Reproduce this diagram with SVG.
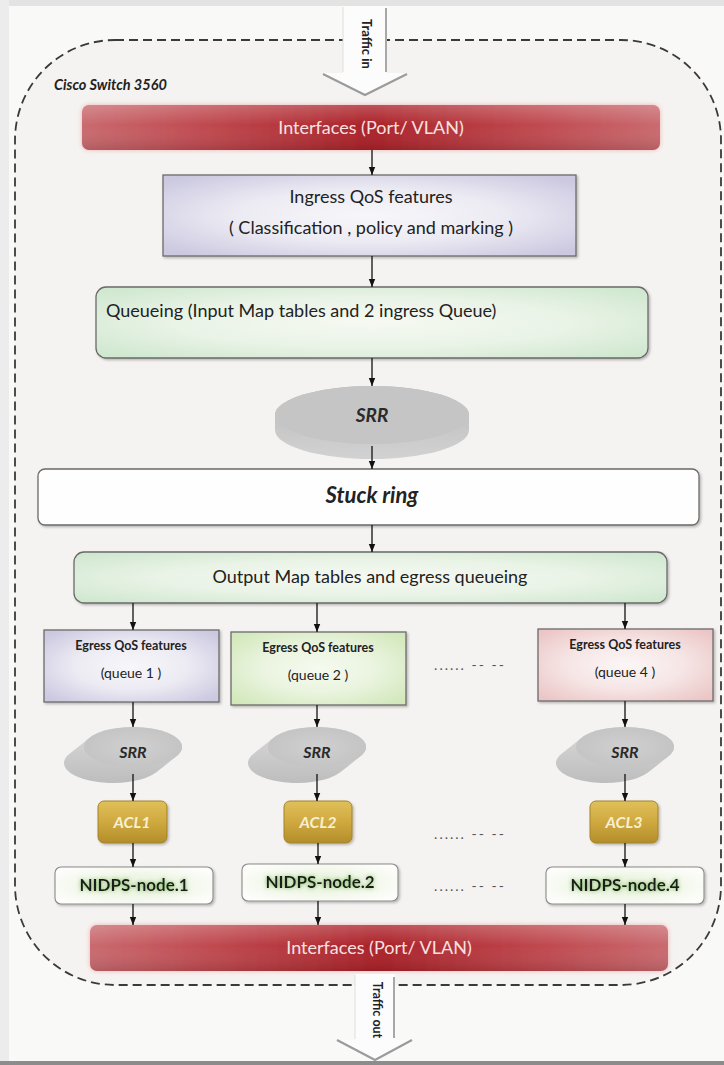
<svg xmlns="http://www.w3.org/2000/svg" width="724" height="1065" viewBox="0 0 724 1065">
<style>
.t{font-family:Lato,"Open Sans","Liberation Sans",sans-serif;fill:#222;}
.c{text-anchor:middle;}
.arr{stroke:#111;stroke-width:1.3;fill:none;marker-end:url(#ah);}
.box{stroke:#6a6a6a;stroke-width:1.3;filter:url(#sh);}
.bar{fill:url(#gRed);filter:url(#rg);}
.barTxt{fill:#f6e2e2;font-size:18px;}
.eg1{font-size:12.5px;font-weight:700;}
.eg2{font-size:14px;}
.srrTxt{font-weight:700;font-style:italic;fill:#2a2a2a;}
.acl{fill:url(#gGold);stroke:#a3822a;stroke-width:1;filter:url(#sh);}
.aclTxt{fill:#f8efd2;font-size:16px;font-style:italic;font-weight:700;}
.nid{fill:url(#gNid);stroke:#8a8a8a;stroke-width:1.1;filter:url(#sh);}
.nidTxt{font-size:17px;font-weight:700;fill:#1e1e1e;filter:url(#glow);}
.dots{font-size:14px;fill:#555;letter-spacing:2px;}
</style>
<defs>
<marker id="ah" viewBox="0 0 10 10" refX="10" refY="5" markerWidth="8" markerHeight="8" markerUnits="userSpaceOnUse" orient="auto"><path d="M0,1 L10,5 L0,9 z" fill="#111"/></marker>
<linearGradient id="gRed" x1="0" y1="0" x2="1" y2="0">
<stop offset="0" stop-color="#c96a6f"/><stop offset="0.2" stop-color="#c04b51"/><stop offset="0.5" stop-color="#ab2128"/><stop offset="0.8" stop-color="#c04b51"/><stop offset="1" stop-color="#c96a6f"/>
</linearGradient>
<linearGradient id="gGloss" x1="0" y1="0" x2="0" y2="1">
<stop offset="0" stop-color="#fff" stop-opacity="0.22"/><stop offset="0.45" stop-color="#fff" stop-opacity="0"/><stop offset="1" stop-color="#000" stop-opacity="0.12"/>
</linearGradient>
<radialGradient id="gLav" r="0.65"><stop offset="0" stop-color="#f7f7fa"/><stop offset="0.5" stop-color="#ecebf3"/><stop offset="1" stop-color="#cbc8e0"/></radialGradient>
<radialGradient id="gGrn" r="0.65"><stop offset="0" stop-color="#f6faf0"/><stop offset="0.5" stop-color="#eaf4df"/><stop offset="1" stop-color="#d2e8bb"/></radialGradient>
<radialGradient id="gPink" r="0.65"><stop offset="0" stop-color="#fcf6f6"/><stop offset="0.5" stop-color="#f6e6e6"/><stop offset="1" stop-color="#ecc6c6"/></radialGradient>
<radialGradient id="gMint" r="0.65"><stop offset="0" stop-color="#f6f9f2"/><stop offset="0.55" stop-color="#e9f3e6"/><stop offset="1" stop-color="#d0e8d0"/></radialGradient>
<radialGradient id="gNid" r="0.6"><stop offset="0" stop-color="#e4f0d6"/><stop offset="0.6" stop-color="#f3f8ec"/><stop offset="1" stop-color="#fdfdfb"/></radialGradient>
<linearGradient id="gGold" x1="0" y1="0" x2="0" y2="1"><stop offset="0" stop-color="#e0c05a"/><stop offset="0.5" stop-color="#cfa93f"/><stop offset="1" stop-color="#b38d2a"/></linearGradient>
<linearGradient id="gSide" x1="0" y1="0" x2="0" y2="1"><stop offset="0" stop-color="#d9d9d9"/><stop offset="1" stop-color="#bdbdbd"/></linearGradient>
<linearGradient id="gSideBig" x1="0" y1="0" x2="0" y2="1"><stop offset="0" stop-color="#b9b9b9"/><stop offset="1" stop-color="#d2d2d2"/></linearGradient>
<radialGradient id="gTop" r="0.6"><stop offset="0" stop-color="#d0d0d0"/><stop offset="1" stop-color="#c2c2c2"/></radialGradient>
<filter id="sh" x="-10%" y="-10%" width="130%" height="140%"><feDropShadow dx="1.5" dy="1.5" stdDeviation="1.2" flood-color="#000" flood-opacity="0.25"/></filter>
<filter id="rg" x="-5%" y="-30%" width="110%" height="160%"><feGaussianBlur in="SourceAlpha" stdDeviation="2.5" result="b"/><feFlood flood-color="#e89a9a" flood-opacity="0.7"/><feComposite in2="b" operator="in" result="g"/><feMerge><feMergeNode in="g"/><feMergeNode in="SourceGraphic"/></feMerge></filter>
<filter id="glow" x="-10%" y="-30%" width="120%" height="160%"><feGaussianBlur in="SourceAlpha" stdDeviation="2" result="b"/><feFlood flood-color="#5fa83e" flood-opacity="0.8"/><feComposite in2="b" operator="in" result="g"/><feMerge><feMergeNode in="g"/><feMergeNode in="SourceGraphic"/></feMerge></filter>
<g id="srrSmall">
<path d="M43.7 9.1 L23.7 25.1 A49 20 0 0 1 -63.7 6.9 L-43.7 -9.1 A49 20 0 0 1 43.7 9.1 Z" fill="url(#gSide)"/>
<ellipse cx="0" cy="0" rx="49" ry="20" fill="url(#gTop)"/>
</g>
</defs>

<!-- background -->
<rect x="0" y="0" width="724" height="1065" fill="#f9f9f8"/>
<rect x="0" y="0" width="724" height="6" fill="#e3e3e3"/>
<rect x="0" y="0" width="9" height="1065" fill="#ececec"/>
<rect x="0" y="1061" width="724" height="4" fill="#8c8c8c"/>

<g id="container">
<rect x="15" y="40" width="706" height="945" rx="100" ry="100" fill="#f5f3f1" stroke="#3a3a3a" stroke-width="1.8" stroke-dasharray="9 5"/>
<text class="t" x="54" y="90" font-size="14.5" font-weight="700" font-style="italic" fill="#1a1a1a">Cisco Switch 3560</text>
</g>

<g id="traffic-in">
<polygon points="343,6 387,6 387,73 407,73 365,95 323,73 343,73" fill="#fcfcfc"/>
<line x1="343" y1="7" x2="343" y2="72" stroke="#dedede" stroke-width="1"/>
<line x1="386" y1="8" x2="386" y2="72" stroke="#8c8c8c" stroke-width="1.5"/>
<polyline points="323,74 365,95 407,74" fill="none" stroke="#9b9b9b" stroke-width="2.2"/>
<text class="t c" transform="translate(366,44) rotate(90)" dy="4.5" font-size="13" font-weight="700">Traffic in</text>
</g>

<g id="interfaces-top">
<rect class="bar" x="82" y="105" width="578" height="45" rx="7"/>
<rect x="82" y="105" width="578" height="45" rx="7" fill="url(#gGloss)"/>
<text class="t c barTxt" x="371" y="134">Interfaces (Port/ VLAN)</text>
</g>

<g id="ingress-qos">
<rect class="box" x="163" y="175" width="413" height="81" fill="url(#gLav)"/>
<text class="t c" x="371" y="203" font-size="18">Ingress QoS features</text>
<text class="t c" x="371" y="234" font-size="18">( Classification , policy and marking )</text>
</g>

<g id="queueing">
<rect class="box" x="96" y="287" width="552" height="71" rx="10" fill="url(#gMint)"/>
<text class="t" x="106" y="317" font-size="18">Queueing (Input Map tables and 2 ingress Queue)</text>
</g>

<g id="srr-main">
<path d="M469 415 L469 430 A97 29 0 0 1 275 430 L275 415 A97 29 0 0 1 469 415 Z" fill="url(#gSideBig)"/>
<ellipse cx="372" cy="415" rx="97" ry="29" fill="#c5c5c5"/>
<text class="t c srrTxt" x="372" y="422" font-size="19">SRR</text>
</g>

<g id="stuck-ring">
<rect class="box" x="38" y="469" width="661" height="56" rx="7" fill="#fefefe" stroke="#777"/>
<text class="t c" x="372" y="503" font-size="22" font-weight="700" font-style="italic" fill="#1a1a1a">Stuck ring</text>
</g>

<g id="output-map">
<rect class="box" x="74" y="552" width="593" height="51" rx="10" fill="url(#gMint)"/>
<text class="t c" x="370" y="583" font-size="18">Output Map tables and  egress queueing</text>
</g>

<g id="egress-1">
<rect class="box" x="44" y="630" width="175" height="72" fill="url(#gLav)"/>
<text class="t c eg1" x="131" y="650">Egress QoS features</text>
<text class="t c eg2" x="131" y="678">(queue 1 )</text>
</g>
<g id="egress-2">
<rect class="box" x="231" y="632" width="175" height="73" fill="url(#gGrn)"/>
<text class="t c eg1" x="318" y="652">Egress QoS features</text>
<text class="t c eg2" x="318" y="680">(queue 2 )</text>
</g>
<g id="egress-4">
<rect class="box" x="538" y="629" width="175" height="72" fill="url(#gPink)"/>
<text class="t c eg1" x="625" y="649">Egress QoS features</text>
<text class="t c eg2" x="625" y="677">(queue 4 )</text>
</g>

<g id="ellipsis">
<text class="t c dots" x="470" y="670">...... -- --</text>
<text class="t c dots" x="470" y="839">...... -- --</text>
<text class="t c dots" x="470" y="891">...... -- --</text>
</g>

<g id="srr-1"><use href="#srrSmall" x="133" y="747"/><text class="t c srrTxt" x="133" y="758" font-size="16">SRR</text></g>
<g id="srr-2"><use href="#srrSmall" x="317" y="747"/><text class="t c srrTxt" x="317" y="758" font-size="16">SRR</text></g>
<g id="srr-4"><use href="#srrSmall" x="625" y="747"/><text class="t c srrTxt" x="625" y="758" font-size="16">SRR</text></g>

<g id="acl-1"><rect class="acl" x="98" y="801" width="69" height="42" rx="6"/><text class="t c aclTxt" x="132" y="828">ACL1</text></g>
<g id="acl-2"><rect class="acl" x="284" y="801" width="68" height="42" rx="6"/><text class="t c aclTxt" x="318" y="828">ACL2</text></g>
<g id="acl-3"><rect class="acl" x="590" y="801" width="68" height="42" rx="6"/><text class="t c aclTxt" x="624" y="828">ACL3</text></g>

<g id="nidps-1"><rect class="nid" x="55" y="867" width="158" height="37" rx="6"/><text class="t c nidTxt" x="134" y="891">NIDPS-node.1</text></g>
<g id="nidps-2"><rect class="nid" x="242" y="864" width="156" height="37" rx="6"/><text class="t c nidTxt" x="320" y="888">NIDPS-node.2</text></g>
<g id="nidps-4"><rect class="nid" x="546" y="867" width="158" height="37" rx="6"/><text class="t c nidTxt" x="625" y="891">NIDPS-node.4</text></g>

<g id="interfaces-bottom">
<rect class="bar" x="90" y="925" width="578" height="46" rx="7"/>
<rect x="90" y="925" width="578" height="46" rx="7" fill="url(#gGloss)"/>
<text class="t c barTxt" x="379" y="954">Interfaces (Port/ VLAN)</text>
</g>

<g id="traffic-out">
<polygon points="355,974 395,974 395,1040 412,1040 375,1060 337,1040 355,1040" fill="#fcfcfc"/>
<line x1="355" y1="975" x2="355" y2="1039" stroke="#dedede" stroke-width="1"/>
<line x1="394" y1="977" x2="394" y2="1038" stroke="#8c8c8c" stroke-width="1.5"/>
<polyline points="337,1040 375,1060 412,1040" fill="none" stroke="#9b9b9b" stroke-width="2.2"/>
<text class="t c" transform="translate(377,1010) rotate(90)" dy="4.5" font-size="12.5" font-weight="700">Traffic out</text>
</g>

<g id="connectors">
<line class="arr" x1="372" y1="150" x2="372" y2="175"/>
<line class="arr" x1="372" y1="256" x2="372" y2="287"/>
<line class="arr" x1="372" y1="358" x2="372" y2="386"/>
<line class="arr" x1="372" y1="446" x2="372" y2="469"/>
<line class="arr" x1="372" y1="525" x2="372" y2="552"/>
<line class="arr" x1="133" y1="603" x2="133" y2="630"/>
<line class="arr" x1="317" y1="603" x2="317" y2="632"/>
<line class="arr" x1="625" y1="603" x2="625" y2="629"/>
<line class="arr" x1="133" y1="702" x2="133" y2="727"/>
<line class="arr" x1="317" y1="705" x2="317" y2="727"/>
<line class="arr" x1="625" y1="701" x2="625" y2="727"/>
<line class="arr" x1="133" y1="774" x2="133" y2="801"/>
<line class="arr" x1="317" y1="774" x2="317" y2="801"/>
<line class="arr" x1="625" y1="774" x2="625" y2="801"/>
<line class="arr" x1="133" y1="843" x2="133" y2="867"/>
<line class="arr" x1="318" y1="843" x2="318" y2="864"/>
<line class="arr" x1="625" y1="843" x2="625" y2="867"/>
<line class="arr" x1="133" y1="904" x2="133" y2="925"/>
<line class="arr" x1="318" y1="901" x2="318" y2="925"/>
<line class="arr" x1="625" y1="904" x2="625" y2="925"/>
</g>
</svg>
